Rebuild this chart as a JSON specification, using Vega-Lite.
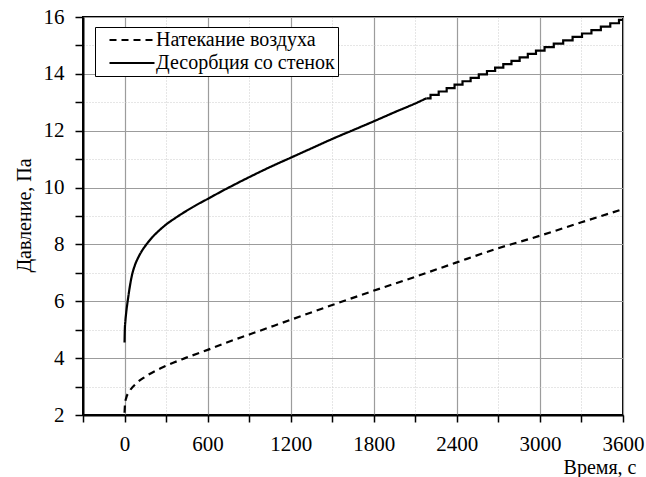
{
  "$schema": "https://vega.github.io/schema/vega-lite/v6.json",
  "autosize": {"type": "none"},
  "padding": {"left": 83, "top": 17, "right": 23, "bottom": 62},
  "width": 540,
  "height": 398,
  "background": "white",
  "config": {
    "font": "Liberation Serif",
    "view": {"stroke": "black", "strokeWidth": 2},
    "axis": {
      "domainColor": "black",
      "domainWidth": 2,
      "tickColor": "black",
      "tickWidth": 1.5,
      "labelColor": "black",
      "labelFont": "Liberation Serif",
      "labelFontSize": 21,
      "titleFont": "Liberation Serif",
      "titleFontSize": 20,
      "titleFontWeight": "normal",
      "titleColor": "black",
      "labelFlush": false,
      "labelOverlap": false,
      "labelBound": false
    },
    "legend": {
      "labelFont": "Liberation Serif",
      "labelFontSize": 20,
      "labelColor": "black",
      "labelLimit": 0
    }
  },
  "datasets": {
    "main": [
      {"t": 0, "p": 2.08, "s": "Натекание воздуха"},
      {"t": 4, "p": 2.42, "s": "Натекание воздуха"},
      {"t": 12, "p": 2.6, "s": "Натекание воздуха"},
      {"t": 35, "p": 2.83, "s": "Натекание воздуха"},
      {"t": 82, "p": 3.1, "s": "Натекание воздуха"},
      {"t": 154, "p": 3.36, "s": "Натекание воздуха"},
      {"t": 300, "p": 3.73, "s": "Натекание воздуха"},
      {"t": 437, "p": 4.0, "s": "Натекание воздуха"},
      {"t": 600, "p": 4.29, "s": "Натекание воздуха"},
      {"t": 721, "p": 4.52, "s": "Натекание воздуха"},
      {"t": 906, "p": 4.84, "s": "Натекание воздуха"},
      {"t": 1195, "p": 5.34, "s": "Натекание воздуха"},
      {"t": 1484, "p": 5.84, "s": "Натекание воздуха"},
      {"t": 1792, "p": 6.36, "s": "Натекание воздуха"},
      {"t": 2093, "p": 6.85, "s": "Натекание воздуха"},
      {"t": 2394, "p": 7.36, "s": "Натекание воздуха"},
      {"t": 2695, "p": 7.86, "s": "Натекание воздуха"},
      {"t": 2996, "p": 8.3, "s": "Натекание воздуха"},
      {"t": 3300, "p": 8.78, "s": "Натекание воздуха"},
      {"t": 3600, "p": 9.24, "s": "Натекание воздуха"},
      {"t": 0, "p": 4.55, "s": "Десорбция со стенок"},
      {"t": 2, "p": 5.0, "s": "Десорбция со стенок"},
      {"t": 6, "p": 5.3, "s": "Десорбция со стенок"},
      {"t": 12, "p": 5.6, "s": "Десорбция со стенок"},
      {"t": 24, "p": 6.05, "s": "Десорбция со стенок"},
      {"t": 36, "p": 6.45, "s": "Десорбция со стенок"},
      {"t": 52, "p": 6.88, "s": "Десорбция со стенок"},
      {"t": 75, "p": 7.27, "s": "Десорбция со стенок"},
      {"t": 100, "p": 7.55, "s": "Десорбция со стенок"},
      {"t": 125, "p": 7.77, "s": "Десорбция со стенок"},
      {"t": 158, "p": 8.0, "s": "Десорбция со стенок"},
      {"t": 200, "p": 8.25, "s": "Десорбция со стенок"},
      {"t": 250, "p": 8.49, "s": "Десорбция со стенок"},
      {"t": 300, "p": 8.7, "s": "Десорбция со стенок"},
      {"t": 370, "p": 8.94, "s": "Десорбция со стенок"},
      {"t": 437, "p": 9.15, "s": "Десорбция со стенок"},
      {"t": 520, "p": 9.39, "s": "Десорбция со стенок"},
      {"t": 600, "p": 9.6, "s": "Десорбция со стенок"},
      {"t": 721, "p": 9.92, "s": "Десорбция со стенок"},
      {"t": 800, "p": 10.12, "s": "Десорбция со стенок"},
      {"t": 906, "p": 10.38, "s": "Десорбция со стенок"},
      {"t": 1050, "p": 10.72, "s": "Десорбция со стенок"},
      {"t": 1200, "p": 11.05, "s": "Десорбция со стенок"},
      {"t": 1350, "p": 11.38, "s": "Десорбция со стенок"},
      {"t": 1500, "p": 11.71, "s": "Десорбция со стенок"},
      {"t": 1650, "p": 12.02, "s": "Десорбция со стенок"},
      {"t": 1800, "p": 12.33, "s": "Десорбция со стенок"},
      {"t": 1950, "p": 12.65, "s": "Десорбция со стенок"},
      {"t": 2100, "p": 12.96, "s": "Десорбция со стенок"},
      {"t": 2180, "p": 13.14, "s": "Десорбция со стенок"}
    ],
    "steps": [
      {"t": 2180, "p": 13.14, "s": "Десорбция со стенок"},
      {"t": 2240, "p": 13.26, "s": "Десорбция со стенок"},
      {"t": 2298, "p": 13.38, "s": "Десорбция со стенок"},
      {"t": 2355, "p": 13.5, "s": "Десорбция со стенок"},
      {"t": 2412, "p": 13.62, "s": "Десорбция со стенок"},
      {"t": 2470, "p": 13.74, "s": "Десорбция со стенок"},
      {"t": 2529, "p": 13.86, "s": "Десорбция со стенок"},
      {"t": 2588, "p": 13.98, "s": "Десорбция со стенок"},
      {"t": 2647, "p": 14.1, "s": "Десорбция со стенок"},
      {"t": 2706, "p": 14.22, "s": "Десорбция со стенок"},
      {"t": 2765, "p": 14.34, "s": "Десорбция со стенок"},
      {"t": 2824, "p": 14.46, "s": "Десорбция со стенок"},
      {"t": 2883, "p": 14.58, "s": "Десорбция со стенок"},
      {"t": 2942, "p": 14.7, "s": "Десорбция со стенок"},
      {"t": 3001, "p": 14.82, "s": "Десорбция со стенок"},
      {"t": 3066, "p": 14.94, "s": "Десорбция со стенок"},
      {"t": 3134, "p": 15.06, "s": "Десорбция со стенок"},
      {"t": 3202, "p": 15.18, "s": "Десорбция со стенок"},
      {"t": 3270, "p": 15.3, "s": "Десорбция со стенок"},
      {"t": 3338, "p": 15.42, "s": "Десорбция со стенок"},
      {"t": 3406, "p": 15.54, "s": "Десорбция со стенок"},
      {"t": 3474, "p": 15.66, "s": "Десорбция со стенок"},
      {"t": 3542, "p": 15.78, "s": "Десорбция со стенок"},
      {"t": 3600, "p": 15.9, "s": "Десорбция со стенок"}
    ]
  },
  "encoding": {
    "x": {
      "field": "t",
      "type": "quantitative",
      "scale": {"domain": [-300, 3600], "nice": false, "zero": false},
      "axis": {
        "title": "Время, с",
        "titleX": 553,
        "titleY": 52,
        "titleAlign": "right",
        "titleBaseline": "middle",
        "values": [-300, 0, 300, 600, 900, 1200, 1500, 1800, 2100, 2400, 2700, 3000, 3300, 3600],
        "format": "d",
        "labelExpr": "datum.value >= 0 && datum.value % 600 === 0 ? datum.label : ''",
        "labelPadding": 11,
        "tickSize": 7,
        "grid": true,
        "gridColor": {"condition": {"test": "datum.value % 600 === 0", "value": "#9c9c9c"}, "value": "#cdcdcd"},
        "gridDash": {"condition": {"test": "datum.value % 600 === 0", "value": []}, "value": [1, 2]},
        "gridWidth": {"condition": {"test": "datum.value % 600 === 0", "value": 1.2}, "value": 1}
      }
    },
    "y": {
      "field": "p",
      "type": "quantitative",
      "scale": {"domain": [2, 16], "nice": false, "zero": false},
      "axis": {
        "title": "Давление, Па",
        "titleX": -59,
        "titleY": 198,
        "titleAngle": -90,
        "titleAlign": "center",
        "titleBaseline": "middle",
        "values": [2, 3, 4, 5, 6, 7, 8, 9, 10, 11, 12, 13, 14, 15, 16],
        "labelExpr": "datum.value % 2 === 0 ? datum.label : ''",
        "labelPadding": 11,
        "tickSize": 8,
        "grid": true,
        "gridColor": {"condition": {"test": "datum.value % 2 === 0", "value": "#9c9c9c"}, "value": "#cdcdcd"},
        "gridDash": {"condition": {"test": "datum.value % 2 === 0", "value": []}, "value": [1, 2]},
        "gridWidth": {"condition": {"test": "datum.value % 2 === 0", "value": 1.2}, "value": 1}
      }
    },
    "strokeDash": {
      "field": "s",
      "type": "nominal",
      "scale": {
        "domain": ["Натекание воздуха", "Десорбция со стенок"],
        "range": [[7, 5], [1, 0]]
      },
      "legend": {
        "title": null,
        "orient": "none",
        "legendX": 12,
        "legendY": 10,
        "symbolType": "M-5,0L5,0",
        "symbolSize": 81,
        "symbolStrokeWidth": 2,
        "symbolStrokeColor": "black",
        "symbolFillColor": "transparent",
        "symbolOffset": 24,
        "labelOffset": 14,
        "labelLimit": 0,
        "padding": 3,
        "rowPadding": 3,
        "strokeColor": "black",
        "fillColor": "white",
        "cornerRadius": 0
      }
    }
  },
  "layer": [
    {
      "data": {"name": "main"},
      "mark": {"type": "line", "color": "black", "strokeWidth": 2.2, "interpolate": "monotone"}
    },
    {
      "data": {"name": "steps"},
      "mark": {"type": "line", "color": "black", "strokeWidth": 2.2, "interpolate": "step"}
    }
  ]
}
